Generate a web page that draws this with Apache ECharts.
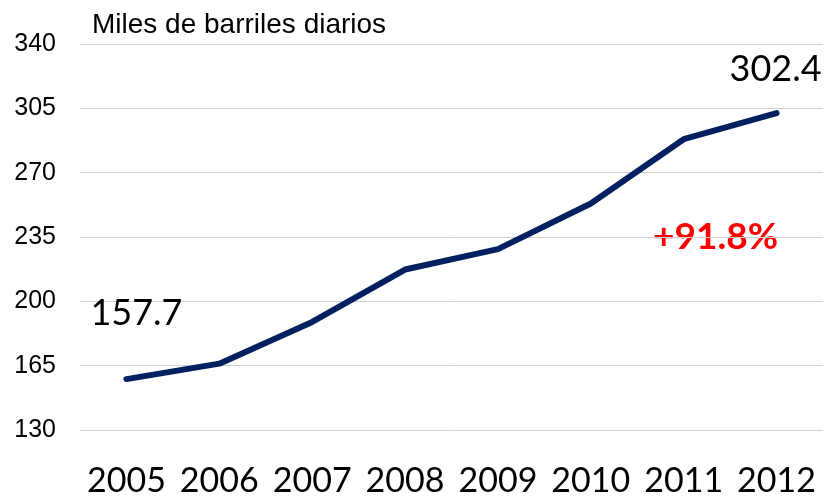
<!DOCTYPE html>
<html>
<head>
<meta charset="utf-8">
<script src="https://cdn.jsdelivr.net/npm/echarts@6/dist/echarts.min.js"></script>
<style>html,body{margin:0;padding:0;background:#fff;}#c{width:829px;height:498px;}</style>
</head>
<body>
<div id="c"></div>
<script>
const categories = ['2005','2006','2007','2008','2009','2010','2011','2012'];
const values = [157.7, 166.1, 188.8, 217.3, 228.4, 253.2, 288.2, 302.4];
const yTicks = [130, 165, 200, 235, 270, 305, 340];
const unitLabel = 'Miles de barriles diarios';
const changeLabel = '+91.8%';

const chart = echarts.init(document.getElementById('c'), null, {renderer: 'canvas'});

const labelStyle = {fontFamily: 'Lato', fontSize: 36, color: '#000'};
const seriesData = values.map((v, i) => {
  if (i === 0) {
    return {value: v, label: Object.assign({show: true, position: 'inside', offset: [10, -66], formatter: v.toFixed(1)}, labelStyle)};
  }
  if (i === values.length - 1) {
    return {value: v, label: Object.assign({show: true, position: 'inside', offset: [-1, -44], formatter: v.toFixed(1)}, labelStyle)};
  }
  return v;
});

chart.setOption({
  animation: false,
  backgroundColor: '#fff',
  title: {
    text: unitLabel,
    left: 87, top: 6,
    textStyle: {fontFamily: 'Liberation Sans', fontSize: 28, fontWeight: 'normal', color: '#000'}
  },
  graphic: [{
    type: 'text',
    left: 653, top: 219,
    style: {text: changeLabel, font: 'bold 37px Lato', fill: '#ff0000'}
  }],
  grid: {left: 80, right: 6, top: 44, bottom: 68, containLabel: false},
  xAxis: {
    type: 'category',
    data: categories,
    boundaryGap: true,
    axisLine: {show: false},
    axisTick: {show: false},
    axisLabel: {fontFamily: 'Lato', fontSize: 34, color: '#000', margin: 34, interval: 0, hideOverlap: false}
  },
  yAxis: {
    type: 'value',
    min: yTicks[0], max: yTicks[yTicks.length - 1], interval: yTicks[1] - yTicks[0],
    axisLine: {show: false},
    axisTick: {show: false},
    axisLabel: {fontFamily: 'Liberation Sans', fontSize: 25, color: '#000', margin: 24},
    splitLine: {lineStyle: {color: '#d0d0d0', width: 1}}
  },
  series: [{
    type: 'line',
    data: seriesData,
    showSymbol: true,
    symbol: 'circle',
    symbolSize: 0,
    lineStyle: {color: '#002060', width: 6, cap: 'round', join: 'round'},
    itemStyle: {color: '#002060'}
  }]
});
</script>
</body>
</html>
